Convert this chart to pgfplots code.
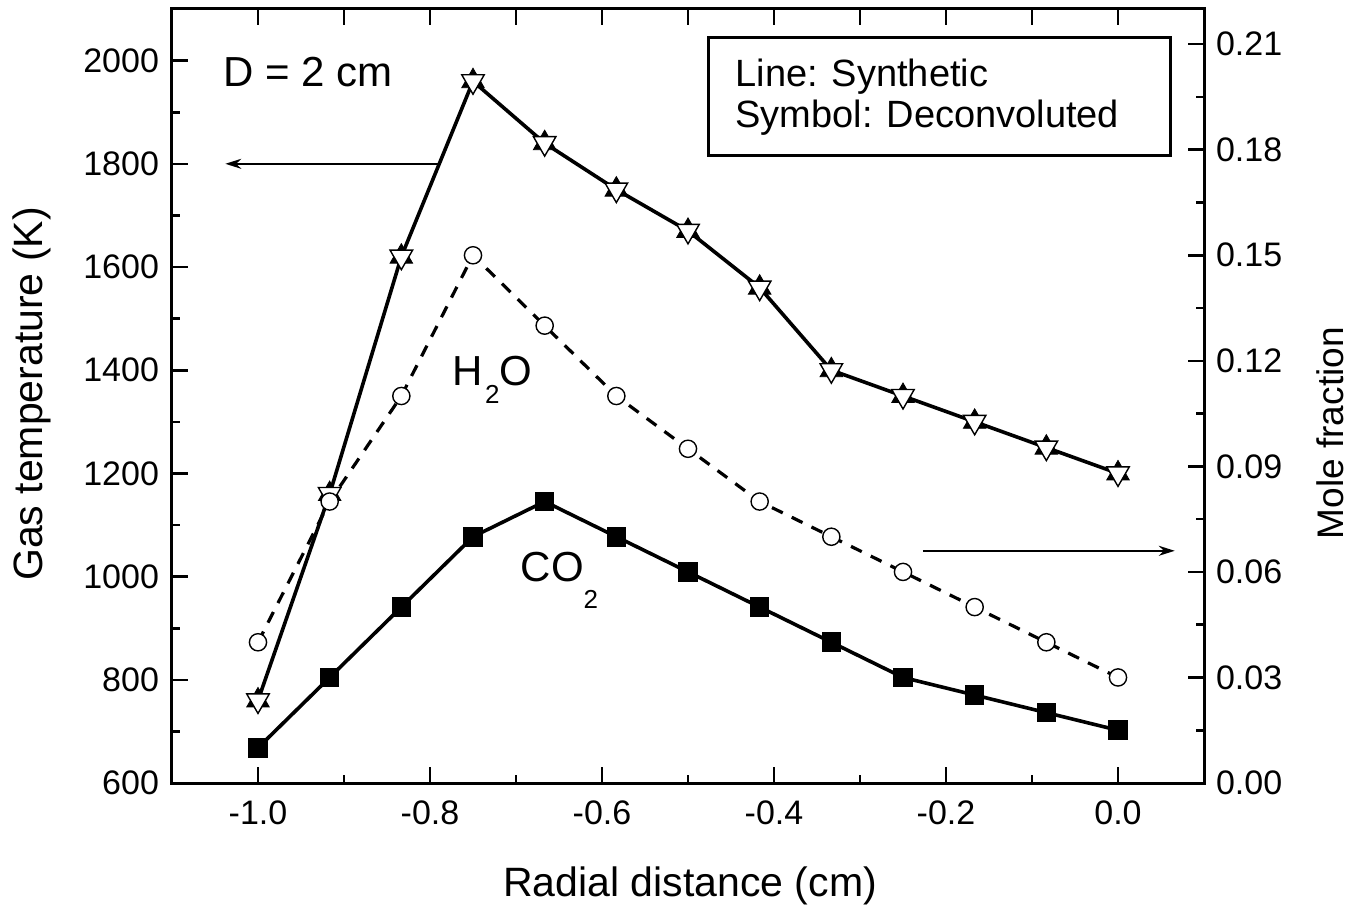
\documentclass[border=0pt]{standalone}
\usepackage{fontspec}
\setmainfont{Liberation Sans}
\usepackage{pgfplots}
\usepackage{pgfplotstable}
\pgfplotsset{compat=1.18}
\usetikzlibrary{arrows.meta}

% radial profile: temperature (K), H2O and CO2 mole fractions
\pgfplotstableread{
x        T     h2o    co2
-1.00000 760   0.040  0.010
-0.91667 1160  0.080  0.030
-0.83333 1620  0.110  0.050
-0.75000 1960  0.150  0.070
-0.66667 1840  0.130  0.080
-0.58333 1750  0.110  0.070
-0.50000 1670  0.095  0.060
-0.41667 1560  0.080  0.050
-0.33333 1400  0.070  0.040
-0.25000 1350  0.060  0.030
-0.16667 1300  0.050  0.025
-0.08333 1250  0.040  0.020
 0.00000 1200  0.030  0.015
}\profile

\pgfplotsset{
  base/.style={
    scale only axis, width=516pt, height=387pt,
    xmin=-1.1, xmax=0.1,
    axis line style={line width=1.5pt, line cap=rect},
    tick style={line width=1.3pt, black},
    major tick length=8pt, minor tick length=4pt,
    tick align=inside,
    /pgf/number format/assume math mode=true,
    ticklabel style={font=\fontsize{17}{19}\selectfont},
    label style={font=\fontsize{20.5}{24}\selectfont},
    clip=false,
  },
}

\begin{document}
\begin{tikzpicture}
\begin{axis}[base,
  axis x line*=bottom, axis y line*=left,
  ymin=600, ymax=2100,
  xtick={-1,-0.8,-0.6,-0.4,-0.2,0},
  minor x tick num=1,
  ytick={600,800,1000,1200,1400,1600,1800,2000},
  minor y tick num=1,
  x tick label style={/pgf/number format/.cd, fixed, fixed zerofill, precision=1, /tikz/.cd, yshift=-5.5pt},
  y tick label style={/pgf/number format/.cd, 1000 sep={}, /tikz/.cd, xshift=-3pt},
  xlabel={Radial distance (cm)},
  xlabel style={at={(rel axis cs:0.502,-0.146)}, anchor=base},
  ylabel={Gas temperature (K)},
  ylabel style={at={(rel axis cs:-0.1357,0.5026)}, anchor=center},
]
\addplot[black, line width=1.8pt] table[x=x, y=T] {\profile};
\addplot[only marks, mark=triangle*, mark size=6.5pt, black] table[x=x, y=T] {\profile};
\addplot[only marks, mark=triangle*, mark size=6.5pt,
  mark options={rotate=180, fill=white, draw=black, line width=0.7pt}] table[x=x, y=T] {\profile};

\node[anchor=base west, inner sep=0, font=\fontsize{21}{24}\selectfont] at (axis cs:-1.041,1949) {D = 2 cm};
\node[anchor=base west, inner sep=0, font=\fontsize{21}{24}\selectfont] at (axis cs:-0.774,1371)
  {H\hspace{1pt}\raisebox{-9pt}{\fontsize{13}{13}\selectfont 2}O};
\node[anchor=base west, inner sep=0, font=\fontsize{21}{24}\selectfont] at (axis cs:-0.695,990)
  {CO\raisebox{-13.5pt}{\fontsize{13}{13}\selectfont 2}};

\draw[line width=1pt, -{Stealth[length=8pt, width=5pt]}] (axis cs:-0.788,1800) -- (axis cs:-1.038,1800);
\draw[line width=1pt, -{Stealth[length=8pt, width=5pt]}] (axis cs:-0.227,1050) -- (axis cs:0.066,1050);

\draw[line width=1.5pt] (axis cs:-0.4767,1817) rectangle (axis cs:0.0605,2044);
\node[anchor=base west, inner sep=0, font=\fontsize{19}{22}\selectfont] at (axis cs:-0.4453,1950) {Line: Synthetic};
\node[anchor=base west, inner sep=0, font=\fontsize{19}{22}\selectfont] at (axis cs:-0.4453,1870) {Symbol: Deconvoluted};
\end{axis}

\begin{axis}[base,
  axis x line*=top, axis y line*=right,
  ymin=0, ymax=0.22,
  xtick={-1,-0.9,-0.8,-0.7,-0.6,-0.5,-0.4,-0.3,-0.2,-0.1,0},
  xticklabels={},
  ytick={0,0.03,0.06,0.09,0.12,0.15,0.18,0.21},
  minor y tick num=1,
  y tick label style={/pgf/number format/.cd, fixed, fixed zerofill, precision=2, /tikz/.cd, xshift=2.5pt},
  ylabel={Mole fraction},
  ylabel style={at={(rel axis cs:1.122,0.452)}, anchor=center, font=\fontsize{18.5}{22}\selectfont},
]
\addplot[black, line width=1.6pt, dash pattern=on 6pt off 5pt,
  mark=*, mark size=4.3pt, mark options={solid, fill=white, line width=0.7pt}] table[x=x, y=h2o] {\profile};
\addplot[black, line width=1.8pt, mark=square*, mark size=4pt, mark options={solid}] table[x=x, y=co2] {\profile};
\end{axis}

\pgfresetboundingbox
\path[use as bounding box] (-86pt,-61.5pt) rectangle (590.5pt,391.5pt);
\end{tikzpicture}
\end{document}
